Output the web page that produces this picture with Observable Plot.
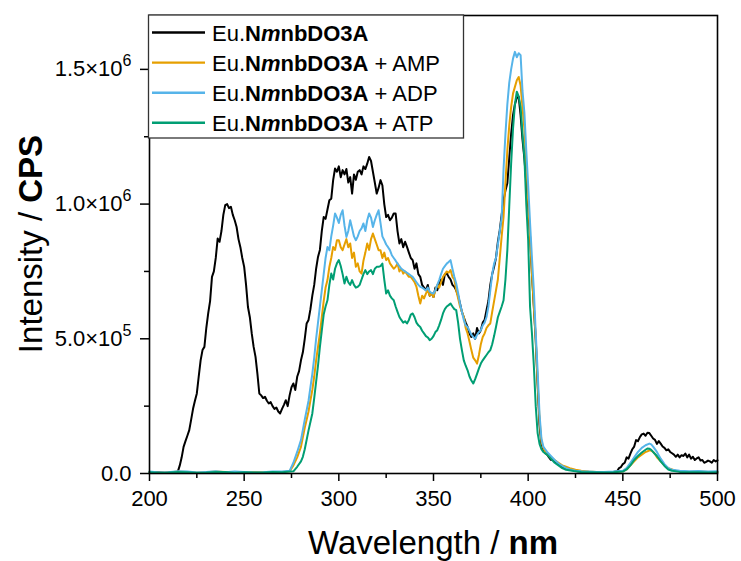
<!DOCTYPE html>
<html>
<head>
<meta charset="utf-8">
<script src="https://cdn.jsdelivr.net/npm/d3@7"></script>
<script src="https://cdn.jsdelivr.net/npm/@observablehq/plot@0.6"></script>
<style>
  html, body { margin: 0; padding: 0; background: white; }
  #chart { width: 741px; height: 561px; }
</style>
</head>
<body>
<div id="chart"></div>
<script>
// ---- Data: [wavelength (nm), intensity (×10^3 CPS)] ----
const seriesNames = ["Eu.NmnbDO3A", "Eu.NmnbDO3A + AMP", "Eu.NmnbDO3A + ADP", "Eu.NmnbDO3A + ATP"];
const seriesColors = ["#000000", "#E69F00", "#56B4E9", "#009E73"];

const euFree = [[200,4],[204,5],[208,3],[212,5],[214,4],[215,8],[216,30],[217,60],[218,99],[219,120],[220,140],[221,161],[222,200],[223,240],[224,270],[225,297],[226,360],[227,420],[228,458],[229,470],[230,540],[231,594],[232,640],[233,730],[234,750],[235,800],[236,872],[237,860],[238,900],[239,960],[240,996],[241,1000],[242,985],[243,990],[244,960],[245,940],[246,915],[247,870],[248,840],[249,800],[250,767],[251,700],[252,618],[253,580],[254,520],[255,470],[256,433],[257,370],[258,297],[259,290],[260,280],[261,285],[262,270],[263,260],[264,265],[265,250],[266,240],[267,245],[268,230],[269,223],[270,240],[271,255],[272,272],[273,250],[274,290],[275,320],[276,334],[277,310],[278,359],[279,380],[280,420],[281,450],[282,500],[283,557],[284,570],[285,610],[286,660],[287,700],[288,760],[289,804],[290,830],[291,900],[292,952],[293,945],[294,980],[295,1014],[296,1020],[297,1089],[298,1132],[299,1120],[300,1140],[301,1100],[302,1126],[303,1110],[304,1130],[305,1080],[306,1100],[307,1039],[308,1110],[309,1090],[310,1120],[311,1126],[312,1110],[313,1140],[314,1130],[315,1150],[316,1175],[317,1160],[318,1120],[319,1080],[320,1039],[321,1060],[322,1089],[323,1070],[324,1000],[325,952],[326,960],[327,940],[328,950],[329,965],[330,965],[331,900],[332,854],[333,870],[334,840],[335,860],[336,841],[337,820],[338,800],[339,792],[340,760],[341,780],[342,740],[343,730],[344,700],[345,690],[346,680],[347,700],[348,660],[349,670],[350,655],[351,690],[352,680],[353,705],[354,720],[355,700],[356,740],[357,742],[358,730],[359,720],[360,700],[361,693],[362,680],[363,660],[364,631],[365,600],[366,580],[367,560],[368,544],[369,520],[370,507],[371,520],[372,500],[373,540],[374,520],[375,532],[376,560],[377,570],[378,606],[379,640],[380,700],[381,740],[382,767],[383,800],[384,860],[385,903],[386,960],[387,1015],[388,1050],[389,1077],[390,1170],[391,1260],[392,1330],[393,1370],[394,1395],[395,1398],[396,1330],[397,1240],[398,1170],[399,1080],[400,990],[401,880],[402,742],[403,620],[404,495],[405,330],[406,180],[407,109],[408,90],[409,75],[410,70],[411,60],[412,51],[413,50],[414,45],[415,40],[416,35],[418,25],[420,20],[423,15],[426,8],[430,6],[435,5],[440,4],[445,6],[447,8],[448,20],[449,24],[450,35],[451,40],[452,60],[453,55],[454,74],[455,90],[456,100],[457,124],[458,120],[459,135],[460,145],[461,148],[462,140],[463,151],[464,150],[465,140],[466,130],[467,125],[468,110],[469,120],[470,111],[471,100],[472,95],[473,86],[474,90],[475,80],[476,75],[477,70],[478,62],[479,70],[480,60],[481,68],[482,65],[483,74],[484,60],[485,70],[486,55],[487,62],[488,50],[489,56],[490,60],[491,48],[492,50],[493,40],[494,43],[495,48],[496,45],[497,40],[498,50],[499,45],[500,49]];

const euAMP = [[200,6],[205,3],[210,4],[215,7],[220,6],[225,3],[230,5],[235,7],[240,6],[245,3],[250,4],[255,6],[260,5],[265,3],[270,6],[274,8],[276,30],[278,60],[280,99],[282,170],[284,230],[285,272],[286,310],[287,360],[288,420],[289,470],[290,520],[291,580],[292,640],[293,690],[294,718],[295,767],[296,800],[297,841],[298,830],[299,866],[300,866],[301,840],[302,829],[303,850],[304,870],[305,840],[306,854],[307,800],[308,820],[309,767],[310,780],[311,750],[312,742],[313,790],[314,820],[315,854],[316,830],[317,870],[318,891],[319,870],[320,850],[321,829],[322,829],[323,800],[324,820],[325,792],[326,800],[327,780],[328,770],[329,760],[330,767],[331,780],[332,750],[333,760],[334,742],[335,750],[336,740],[337,730],[338,730],[339,720],[340,710],[341,693],[342,660],[343,631],[344,660],[345,650],[346,668],[347,680],[348,660],[349,670],[350,655],[351,680],[352,700],[353,690],[354,710],[355,730],[356,740],[357,750],[358,745],[359,755],[360,730],[361,720],[362,680],[363,650],[364,620],[365,600],[366,581],[367,540],[368,520],[369,490],[370,458],[371,430],[372,420],[373,408],[374,440],[375,480],[376,507],[377,520],[378,540],[379,550],[380,557],[381,600],[382,640],[383,680],[384,720],[385,800],[386,880],[387,952],[388,1080],[389,1200],[390,1290],[391,1360],[392,1410],[393,1435],[394,1460],[395,1472],[396,1440],[397,1360],[398,1280],[399,1150],[400,1010],[401,880],[402,740],[403,618],[404,500],[405,340],[406,200],[407,120],[408,95],[409,80],[410,70],[412,60],[414,50],[416,40],[418,30],[420,25],[422,20],[425,14],[428,10],[432,7],[436,6],[440,5],[445,6],[450,8],[452,15],[454,30],[456,45],[458,60],[460,70],[462,80],[463,82],[464,86],[465,85],[466,80],[467,72],[468,60],[470,45],[472,30],[474,20],[476,15],[478,10],[480,8],[485,6],[490,7],[495,6],[500,6]];

const euADP = [[200,7],[205,4],[210,5],[215,8],[220,7],[225,4],[230,6],[235,8],[240,5],[245,7],[250,6],[255,4],[260,5],[265,7],[270,7],[274,10],[276,40],[278,80],[280,124],[282,200],[284,270],[285,321],[286,370],[287,430],[288,500],[289,560],[290,620],[291,680],[292,740],[293,800],[294,841],[295,829],[296,880],[297,920],[298,965],[299,950],[300,930],[301,960],[302,977],[303,920],[304,878],[305,900],[306,940],[307,910],[308,880],[309,866],[310,880],[311,900],[312,910],[313,928],[314,900],[315,940],[316,965],[317,950],[318,915],[319,940],[320,960],[321,977],[322,930],[323,880],[324,866],[325,850],[326,840],[327,829],[328,810],[329,800],[330,790],[331,779],[332,770],[333,760],[334,755],[335,750],[336,745],[337,740],[338,735],[339,730],[340,720],[341,710],[342,700],[343,693],[344,690],[345,685],[346,680],[347,690],[348,675],[349,670],[350,668],[351,680],[352,700],[353,718],[354,740],[355,760],[356,770],[357,779],[358,785],[359,792],[360,760],[361,730],[362,705],[363,670],[364,631],[365,600],[366,570],[367,550],[368,544],[369,530],[370,515],[371,507],[372,500],[373,515],[374,525],[375,532],[376,550],[377,560],[378,581],[379,620],[380,680],[381,740],[382,779],[383,800],[384,850],[385,900],[386,950],[387,1130],[388,1260],[389,1370],[390,1450],[391,1500],[392,1540],[393,1565],[394,1545],[395,1560],[396,1553],[397,1420],[398,1340],[399,1200],[400,1070],[401,930],[402,800],[403,680],[404,520],[405,380],[406,220],[407,130],[408,100],[409,90],[410,80],[412,65],[414,50],[416,37],[418,28],[420,20],[422,15],[425,10],[428,8],[432,7],[436,6],[440,6],[445,7],[450,10],[452,20],[454,40],[456,60],[458,80],[460,95],[462,105],[464,111],[465,108],[466,100],[468,80],[470,55],[472,35],[474,20],[476,14],[478,12],[480,10],[485,8],[490,9],[495,7],[500,8]];

const euATP = [[200,5],[205,3],[210,4],[215,6],[220,5],[225,3],[230,4],[235,6],[240,6],[245,3],[250,5],[255,4],[260,4],[265,6],[270,5],[276,8],[278,25],[280,45],[281,62],[282,90],[284,160],[286,223],[287,280],[288,340],[289,400],[290,470],[291,530],[292,590],[293,620],[294,643],[295,700],[296,742],[297,720],[298,760],[299,780],[300,792],[301,770],[302,740],[303,705],[304,730],[305,710],[306,700],[307,718],[308,700],[309,690],[310,693],[311,700],[312,720],[313,740],[314,755],[315,740],[316,750],[317,755],[318,740],[319,760],[320,767],[321,767],[322,770],[323,779],[324,720],[325,668],[326,680],[327,660],[328,650],[329,643],[330,620],[331,600],[332,581],[333,570],[334,560],[335,565],[336,557],[337,570],[338,590],[339,594],[340,580],[341,560],[342,550],[343,544],[344,530],[345,520],[346,510],[347,505],[348,495],[349,500],[350,510],[351,525],[352,532],[353,550],[354,570],[355,594],[356,610],[357,620],[358,625],[359,631],[360,620],[361,610],[362,606],[363,560],[364,500],[365,458],[366,420],[367,400],[368,383],[369,360],[370,345],[371,334],[372,350],[373,370],[374,390],[375,408],[376,420],[377,430],[378,440],[379,450],[380,458],[381,480],[382,510],[383,544],[384,580],[385,600],[386,620],[387,643],[388,720],[389,829],[390,990],[391,1150],[392,1280],[393,1370],[394,1417],[395,1400],[396,1360],[397,1260],[398,1175],[399,1000],[400,866],[401,618],[402,520],[403,400],[404,250],[405,150],[406,110],[407,90],[408,80],[410,70],[412,55],[414,40],[416,30],[418,20],[420,14],[424,9],[428,6],[432,5],[440,4],[445,5],[450,7],[452,15],[454,30],[456,50],[458,65],[460,78],[462,88],[463,93],[464,92],[465,88],[466,80],[468,65],[470,45],[472,28],[474,15],[476,10],[480,6],[485,5],[490,5],[495,4],[500,5]];

const xMajorTicks = [200, 250, 300, 350, 400, 450, 500];
const xMinorTicks = [225, 275, 325, 375, 425, 475];
const yMajorTicks = [0, 5e5, 1e6, 1.5e6];
const yMinorTicks = [2.5e5, 7.5e5, 1.25e6];

// ---- Build table ----
const allSeries = [euFree, euAMP, euADP, euATP];
const table = allSeries.flatMap((s, i) => s.map(([nm, k]) => ({nm, cps: k * 1000, series: seriesNames[i]})));

function fmtY(d) {
  if (d === 0) return "0.0";
  const e = Math.floor(Math.log10(d));
  const m = d / Math.pow(10, e);
  return m.toFixed(1) + "×10^" + e;
}

const FONT = "'Liberation Sans', Arial, Helvetica, sans-serif";

const chart = Plot.plot({
  width: 741,
  height: 561,
  marginLeft: 149,
  marginRight: 24,
  marginTop: 15,
  marginBottom: 88,
  style: {fontFamily: FONT, fontSize: "22px", color: "black", background: "white", overflow: "visible"},
  x: {domain: [200, 500]},
  y: {domain: [0, 1.7e6]},
  color: {domain: seriesNames, range: seriesColors},
  marks: [
    Plot.axisX(xMajorTicks, {tickSize: 8, tickPadding: 9, label: null, fontSize: 22, strokeWidth: 1.5}),
    Plot.axisX(xMinorTicks, {tickSize: 5, tickFormat: () => "", label: null, strokeWidth: 1.5}),
    Plot.axisY(yMajorTicks, {tickSize: 9, tickPadding: 9, label: null, fontSize: 22, tickFormat: fmtY, strokeWidth: 1.5}),
    Plot.axisY(yMinorTicks, {tickSize: 5, tickFormat: () => "", label: null, strokeWidth: 1.5}),
    Plot.line(table, {x: "nm", y: "cps", z: "series", stroke: "series", strokeWidth: 2, strokeLinejoin: "round"}),
    Plot.frame({stroke: "black", strokeWidth: 1.6})
  ]
});

document.getElementById("chart").appendChild(chart);

const svg = d3.select(chart);

// superscript exponents in y tick labels
svg.selectAll("text").each(function() {
  const t = this.textContent;
  if (t.includes("×10^")) {
    const [base, exp] = t.split("^");
    const sel = d3.select(this);
    sel.text("");
    sel.append("tspan").text(base);
    sel.append("tspan").attr("font-size", "16px").attr("dy", "-10").text(exp);
  }
});

// axis titles
const xt = svg.append("text")
  .attr("x", 433).attr("y", 554)
  .attr("text-anchor", "middle")
  .attr("font-family", FONT).attr("font-size", 33).attr("fill", "black");
xt.append("tspan").text("Wavelength / ");
xt.append("tspan").attr("font-weight", "bold").text("nm");

const yt = svg.append("text")
  .attr("transform", "translate(42,244) rotate(-90)")
  .attr("text-anchor", "middle")
  .attr("font-family", FONT).attr("font-size", 33).attr("fill", "black");
yt.append("tspan").text("Intensity / ");
yt.append("tspan").attr("font-weight", "bold").text("CPS");

// legend
const suffixes = ["", " + AMP", " + ADP", " + ATP"];
const lg = svg.append("g").attr("font-family", FONT).attr("font-size", 22).attr("text-anchor", "start");
lg.append("rect")
  .attr("x", 148.5).attr("y", 15).attr("width", 315).attr("height", 123)
  .attr("fill", "white").attr("stroke", "#333").attr("stroke-width", 1.3);
seriesNames.forEach((name, i) => {
  const cy = 32.5 + i * 30.1;
  lg.append("line")
    .attr("x1", 152).attr("x2", 205).attr("y1", cy).attr("y2", cy)
    .attr("stroke", seriesColors[i]).attr("stroke-width", 2.4);
  const t = lg.append("text").attr("x", 212).attr("y", cy + 8.5)
    .attr("text-anchor", "start").attr("fill", "black");
  t.append("tspan").text("Eu.");
  t.append("tspan").attr("font-weight", "bold").text("N");
  t.append("tspan").attr("font-weight", "bold").attr("font-style", "italic").text("m");
  t.append("tspan").attr("font-weight", "bold").text("nbDO3A");
  t.append("tspan").text(suffixes[i]);
});
</script>
</body>
</html>
